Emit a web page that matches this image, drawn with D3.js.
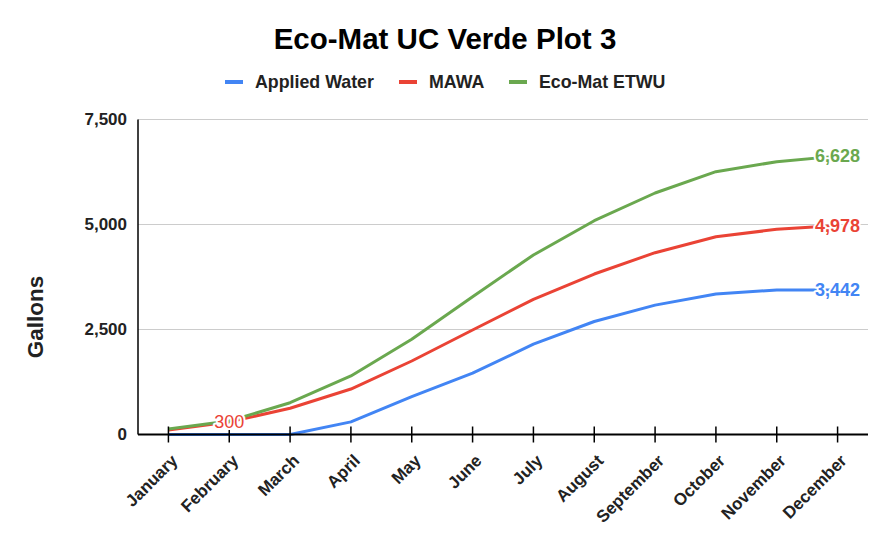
<!DOCTYPE html>
<html><head><meta charset="utf-8">
<script src="https://cdn.jsdelivr.net/npm/d3@7/dist/d3.min.js"></script>
<style>
html,body{margin:0;padding:0;background:#fff;}
svg{display:block;font-family:"Liberation Sans",Arial,sans-serif;}
</style></head>
<body>
<svg id="chart" width="892" height="547"></svg>
<script>
const months = ["January","February","March","April","May","June","July","August","September","October","November","December"];
const appliedWater = [0, 0, 0, 300, 900, 1460, 2150, 2690, 3080, 3345, 3440, 3442];
const mawa = [107, 300, 624, 1083, 1750, 2488, 3219, 3821, 4329, 4710, 4885, 4978];
const ecoMatETWU = [130, 320, 757, 1393, 2267, 3281, 4274, 5090, 5750, 6257, 6495, 6628];
const yTicks = [0, 2500, 5000, 7500];
const seriesNames = ["Applied Water", "MAWA", "Eco-Mat ETWU"];
const seriesColors = ["#4285f4", "#ea4335", "#6aa84f"];
const title = "Eco-Mat UC Verde Plot 3";
const yTitle = "Gallons";

(function () {
const series = [appliedWater, mawa, ecoMatETWU].map((v, i) => ({name: seriesNames[i], color: seriesColors[i], values: v}));

const svg = d3.select("#chart");
const pLeft = 138, pRight = 868, pTop = 119.5, pBottom = 434.5;

const x = d3.scaleBand().domain(months).range([pLeft, pRight]);
const y = d3.scaleLinear().domain([0, 7500]).range([pBottom, pTop]);
const cx = m => x(m) + x.bandwidth() / 2;

// title
svg.append("text").attr("x", 445).attr("y", 49).attr("text-anchor", "middle")
  .attr("font-size", 29.5).attr("font-weight", "bold").attr("fill", "#000").text(title);

// legend
const legendX = [225, 399, 509];
series.forEach((s, i) => {
  const g = svg.append("g").attr("transform", `translate(${legendX[i]},82)`);
  g.append("rect").attr("x", 0).attr("y", -2).attr("width", 18).attr("height", 4).attr("fill", s.color);
  g.append("text").attr("x", 30).attr("y", 6).attr("font-size", 17.8).attr("font-weight", "bold")
    .attr("fill", "#222").text(s.name);
});

// gridlines
svg.append("g").selectAll("line").data(yTicks.filter(t => t > 0)).join("line")
  .attr("x1", pLeft).attr("x2", pRight).attr("y1", d => y(d)).attr("y2", d => y(d))
  .attr("stroke", "#cccccc").attr("stroke-width", 1);

// y axis
const yAxis = svg.append("g").attr("transform", `translate(${pLeft},0)`)
  .call(d3.axisLeft(y).tickValues(yTicks).tickSize(0).tickPadding(11).tickFormat(d3.format(",")));
yAxis.select(".domain").remove();
yAxis.selectAll("text").attr("font-size", 17).attr("font-weight", "bold").attr("fill", "#222")
  .attr("font-family", "Liberation Sans, Arial, sans-serif");
svg.append("line").attr("x1", pLeft).attr("x2", pLeft).attr("y1", pTop).attr("y2", pBottom)
  .attr("stroke", "#000").attr("stroke-width", 1.5);

// y title
svg.append("text").attr("transform", "translate(43,317) rotate(-90)").attr("text-anchor", "middle")
  .attr("font-size", 22.5).attr("font-weight", "bold").attr("fill", "#222").text(yTitle);

// lines
const line = d3.line().x((d, i) => cx(months[i])).y(d => y(d));
svg.append("g").selectAll("path").data(series).join("path")
  .attr("d", d => line(d.values)).attr("fill", "none").attr("stroke", d => d.color)
  .attr("stroke-width", 3).attr("stroke-linejoin", "round");

// x axis
const xAxis = svg.append("g").attr("transform", `translate(0,${pBottom})`)
  .call(d3.axisBottom(x).tickSize(8).tickSizeOuter(0).tickPadding(6));
xAxis.select(".domain").remove();
xAxis.selectAll(".tick line").attr("y1", -8).attr("y2", 8).attr("stroke", "#000").attr("stroke-width", 1.5);
xAxis.selectAll("text").attr("font-size", 17).attr("font-weight", "bold").attr("fill", "#222")
  .attr("font-family", "Liberation Sans, Arial, sans-serif")
  .attr("text-anchor", "end").attr("dy", "0.35em")
  .attr("transform", "translate(6,23) rotate(-45)").attr("y", 0).attr("x", 0);
svg.append("line").attr("x1", pLeft).attr("x2", pRight).attr("y1", pBottom).attr("y2", pBottom)
  .attr("stroke", "#000").attr("stroke-width", 2);

// data labels
const labels = [
  {s: 1, i: 1, bold: false},
  {s: 0, i: 11, bold: true},
  {s: 1, i: 11, bold: true},
  {s: 2, i: 11, bold: true}
];
svg.append("g").selectAll("text").data(labels).join("text")
  .attr("x", d => cx(months[d.i])).attr("y", d => y(series[d.s].values[d.i]))
  .attr("dy", "0.35em").attr("text-anchor", "middle")
  .attr("font-size", 18).attr("font-weight", d => d.bold ? "bold" : "normal")
  .attr("fill", d => series[d.s].color)
  .attr("stroke", "#fff").attr("stroke-width", 4).attr("paint-order", "stroke").attr("stroke-linejoin", "round")
  .text(d => d3.format(",")(series[d.s].values[d.i]));
})();
</script>
</body></html>
